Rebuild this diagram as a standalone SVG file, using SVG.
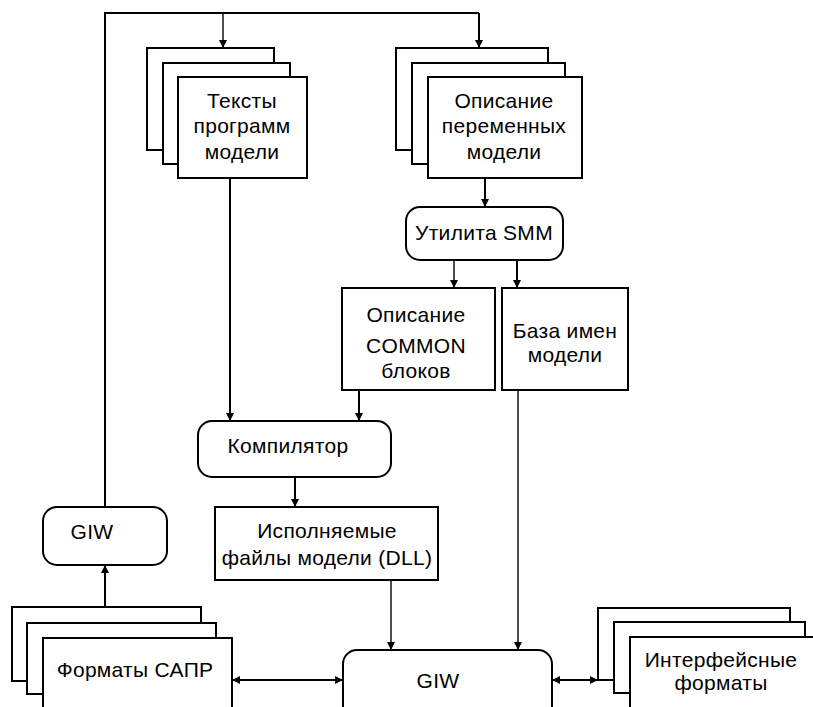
<svg xmlns="http://www.w3.org/2000/svg" width="813" height="707" viewBox="0 0 813 707">
<defs>
<style>
.b{fill:#fff;stroke:#000;stroke-width:2}
.t{font-family:"Liberation Sans",Arial,sans-serif;font-size:21px;letter-spacing:0.3px;fill:#000;text-anchor:middle}
.c{fill:none;stroke:#000;stroke-width:2}
.c1{fill:none;stroke:#000;stroke-width:1.4}
</style>
<marker id="a" viewBox="0 0 10 10" refX="10" refY="5" markerWidth="8" markerHeight="8" markerUnits="userSpaceOnUse" orient="auto-start-reverse">
<path d="M0,0 L10,5 L0,10 z" fill="#000"/>
</marker>
</defs>
<rect width="813" height="707" fill="#fff"/>
<g id="connectors">
<path class="c" d="M105,507 V13 H479"/>
<path class="c1" d="M223,13 V48" marker-end="url(#a)"/>
<path class="c" d="M479,13 V48" marker-end="url(#a)"/>
<path class="c" d="M230,178 V421" marker-end="url(#a)"/>
<path class="c" d="M485,178 V207" marker-end="url(#a)"/>
<path class="c1" d="M454,260 V288" marker-end="url(#a)"/>
<path class="c" d="M517,260 V288" marker-end="url(#a)"/>
<path class="c" d="M359,390 V421" marker-end="url(#a)"/>
<path class="c" d="M295,477 V507" marker-end="url(#a)"/>
<path class="c1" d="M391,580 V650" marker-end="url(#a)"/>
<path class="c1" d="M518,390 V650" marker-end="url(#a)"/>
<path class="c" d="M105,607 V565" marker-end="url(#a)"/>
<path class="c" d="M232,680 H343" marker-start="url(#a)" marker-end="url(#a)"/>
<path class="c" d="M552,680 H598" marker-start="url(#a)" marker-end="url(#a)"/>
</g>
<g id="texts-node">
<rect class="b" x="147" y="48" width="127" height="102"/>
<rect class="b" x="163" y="63" width="127" height="101"/>
<rect class="b" x="178" y="77" width="129" height="101"/>
<text class="t" x="242" y="108">Тексты</text>
<text class="t" x="242" y="133">программ</text>
<text class="t" x="242" y="159">модели</text>
</g>
<g id="vars-node">
<rect class="b" x="396" y="48" width="152" height="102"/>
<rect class="b" x="412" y="63" width="153" height="101"/>
<rect class="b" x="428" y="77" width="154" height="101"/>
<text class="t" x="504" y="108">Описание</text>
<text class="t" x="504" y="133">переменных</text>
<text class="t" x="504" y="159">модели</text>
</g>
<g id="smm-node">
<rect class="b" x="406" y="207" width="157" height="53" rx="14"/>
<text class="t" x="484" y="240">Утилита SMM</text>
</g>
<g id="common-node">
<rect class="b" x="342" y="288" width="153" height="102"/>
<text class="t" x="416" y="322">Описание</text>
<text class="t" x="416" y="353">COMMON</text>
<text class="t" x="416" y="378">блоков</text>
</g>
<g id="names-node">
<rect class="b" x="502" y="288" width="126" height="102"/>
<text class="t" x="565" y="338">База имен</text>
<text class="t" x="565" y="362">модели</text>
</g>
<g id="compiler-node">
<rect class="b" x="198" y="421" width="193" height="56" rx="14"/>
<text class="t" x="288" y="453">Компилятор</text>
</g>
<g id="dll-node">
<rect class="b" x="215" y="507" width="223" height="73"/>
<text class="t" x="327" y="538">Исполняемые</text>
<text class="t" x="327" y="565">файлы модели (DLL)</text>
</g>
<g id="giw-small-node">
<rect class="b" x="43" y="507" width="124" height="58" rx="14"/>
<text class="t" x="92" y="539">GIW</text>
</g>
<g id="cad-node">
<rect class="b" x="12" y="607" width="189" height="74"/>
<rect class="b" x="27" y="623" width="189" height="71"/>
<rect class="b" x="43" y="638" width="189" height="80"/>
<text class="t" x="135" y="677">Форматы САПР</text>
</g>
<g id="giw-main-node">
<rect class="b" x="343" y="650" width="209" height="80" rx="14"/>
<text class="t" x="438" y="688">GIW</text>
</g>
<g id="interface-node">
<rect class="b" x="598" y="608" width="192" height="72"/>
<rect class="b" x="614" y="622" width="191" height="71"/>
<rect class="b" x="630" y="637" width="200" height="80"/>
<text class="t" x="721" y="667">Интерфейсные</text>
<text class="t" x="721" y="690">форматы</text>
</g>
</svg>
